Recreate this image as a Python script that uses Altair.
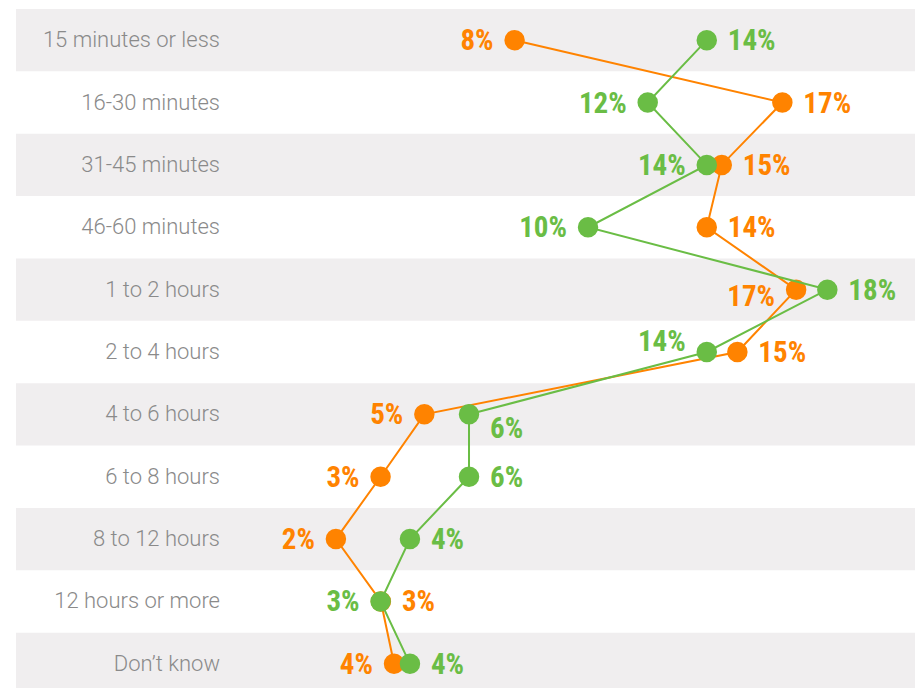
import altair as alt
import pandas as pd

categories = ["15 minutes or less", "16-30 minutes", "31-45 minutes", "46-60 minutes",
              "1 to 2 hours", "2 to 4 hours", "4 to 6 hours", "6 to 8 hours",
              "8 to 12 hours", "12 hours or more", "Don\u2019t know"]
orange_values = [7.83, 16.58, 14.6, 14.11, 17.03, 15.11, 4.88, 3.45, 1.99, 3.46, 3.89]
green_values = [14.11, 12.18, 14.11, 10.23, 18.05, 14.11, 6.34, 6.34, 4.41, 3.45, 4.41]
series_names = ["Orange", "Green"]
series_colors = ["#FF8300", "#6ABD45"]

# label nudges (pixels) to avoid overlaps
LABEL_NUDGE = {("1 to 2 hours", "Orange"): 6, ("2 to 4 hours", "Green"): -11,
               ("4 to 6 hours", "Green"): 14}

W, H = 899, 686
PX_PER_UNIT = 30.6
X0 = -259 / PX_PER_UNIT
XDOM = [X0, X0 + W / PX_PER_UNIT]

rows = []
for i, c in enumerate(categories):
    o, g = orange_values[i], green_values[i]
    for s, v, other in (("Orange", o, g), ("Green", g, o)):
        if v < other or (v == other and s == "Green"):
            side = "left"
        else:
            side = "right"
        rows.append({"cat": c, "idx": i, "series": s, "value": v,
                     "label": f"{round(v)}%", "side": side,
                     "nudge": LABEL_NUDGE.get((c, s), 0)})
df = pd.DataFrame(rows)
cats_df = pd.DataFrame({"cat": categories, "idx": list(range(len(categories)))})

yenc = alt.Y("cat:N", sort=categories, axis=None,
             scale=alt.Scale(paddingInner=0, paddingOuter=0))
xenc = alt.X("value:Q", axis=None, scale=alt.Scale(domain=XDOM, nice=False, zero=False))
color = alt.Color("series:N", scale=alt.Scale(domain=series_names, range=series_colors), legend=None)

bands = alt.Chart(cats_df).transform_filter("datum.idx % 2 == 0").mark_rect(
    color="#F0EEEF").encode(y=yenc, x=alt.value(0), x2=alt.value(W))

cat_labels = alt.Chart(cats_df).mark_text(
    align="right", baseline="middle", font="Roboto", fontWeight=300, fontSize=22,
    color="#8A8A8A").encode(y=yenc, x=alt.value(204), text="cat:N")

layers = [bands, cat_labels]
for s in series_names:
    sd = df[df.series == s]
    base = alt.Chart(sd)
    layers.append(base.mark_line(strokeWidth=2).encode(
        x=xenc, y=yenc, color=color, order="idx:Q"))
    layers.append(base.mark_circle(size=420, opacity=1).encode(
        x=xenc, y=yenc, color=color))

for s in series_names:
    sd = df[df.series == s]
    for side, align, dx in (("left", "right", -21), ("right", "left", 21)):
        for nd in sorted(sd.nudge.unique()):
            sub = sd[(sd.side == side) & (sd.nudge == nd)]
            if len(sub) == 0:
                continue
            layers.append(alt.Chart(sub).mark_text(
                align=align, baseline="middle", dx=dx, dy=int(nd) + 1,
                font="Liberation Sans Narrow, Roboto Condensed, Roboto",
                fontWeight="bold", fontSize=29).encode(
                x=xenc, y=yenc, color=color, text="label:N"))

chart = alt.layer(*layers).properties(
    width=W, height=H,
    padding={"left": 8, "top": 1, "right": 0, "bottom": 0},
    autosize=alt.AutoSizeParams(type="none"),
).configure_view(stroke=None)

chart.save("out.html", embed_options={"renderer": "svg", "actions": False})
